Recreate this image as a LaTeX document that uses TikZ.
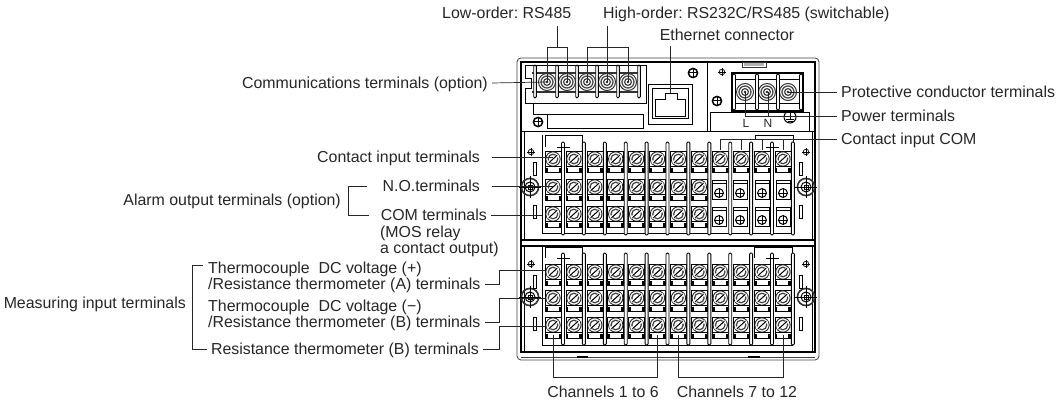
\documentclass[tikz,border=0pt]{standalone}
\usepackage{fontspec}
\setmainfont{Liberation Sans}
\usepackage{xcolor}
\definecolor{lbltext}{gray}{0.15}
\frenchspacing

\tikzset{
  lbl/.style={font=\fontsize{15.9}{16}\selectfont, text=lbltext, inner xsep=4pt, inner ysep=0pt, text height=11.5pt, text depth=0pt},
  lbltwo/.style={font=\fontsize{15.9}{16}\selectfont, text=lbltext, inner xsep=4pt, inner ysep=0pt, align=left},
  conn/.style={line width=0.7pt, black!85},
  frameline/.style={line width=0.8pt, black!75},
  thickline/.style={line width=1.6pt, black},
  barrier/.style={line width=0.9pt, black, fill=white, rounded corners=1.2pt},
}

\newcommand{\tabplate}[2]{
\draw [line width=0.5pt, fill=white] (#1-8,#2+7) rectangle (#1+8,#2+13);
\fill [black] (#1-8,#2+9) rectangle (#1-5.5,#2+13);
\fill [black] (#1+5.5,#2+9) rectangle (#1+8,#2+13);
}
\newcommand{\slotscrew}[2]{
\draw [line width=0.5pt, fill=white] (#1-8,#2-7.5) rectangle (#1+8,#2+7.5);
\draw [line width=0.9pt, black!85] (#1,#2) circle (7.2);
\draw [line width=1.2pt, black!75] (#1,#2) circle (4.8);
\draw [line width=2.6pt, white] (#1-5.5,#2+4) -- (#1+5.5,#2-4);
\draw [line width=0.7pt] (#1-4.5,#2+4.2) -- (#1+3.5,#2-3);
\draw [line width=0.7pt] (#1-3.5,#2+3) -- (#1+4.5,#2-4.2);
}
\newcommand{\ringscrew}[2]{
\draw [line width=1pt, black!80] (#1,#2) circle (8.5);
\draw [line width=1.3pt, black!70] (#1,#2) circle (6);
\draw [line width=1.2pt, black!75] (#1,#2) circle (3.4);
\fill [black!85] (#1,#2) circle (1.3);
}
\newcommand{\tinyscrew}[2]{
\draw [line width=0.7pt] (#1,#2) circle (2.8);
\draw [line width=0.5pt] (#1-3.8,#2) -- (#1+3.8,#2);
\draw [line width=0.5pt] (#1,#2-3.8) -- (#1,#2+3.8);
}
\newcommand{\boldscrew}[2]{
\draw [line width=1.5pt] (#1,#2) circle (4.6);
\draw [line width=1pt] (#1-5,#2) -- (#1+5,#2);
\draw [line width=1pt] (#1,#2-5) -- (#1,#2+5);
}
\newcommand{\mountscrew}[2]{
\draw [line width=1.6pt, black!80] (#1,#2) circle (8.6);
\draw [line width=1pt] (#1,#2) circle (5);
\draw [line width=0.6pt] (#1-11,#2) -- (#1+11,#2);
\draw [line width=0.6pt] (#1,#2-11) -- (#1,#2+11);
\draw [line width=0.8pt] (#1-2,#2-2) rectangle (#1+2,#2+2);
}
\newcommand{\nutplate}[2]{
\draw [line width=0.7pt, fill=white] (#1-7,#2-13) rectangle (#1+7,#2+6);
\draw [line width=0.5pt] (#1-7,#2-10) -- (#1+7,#2-10);
\draw [line width=1pt] (#1,#2) circle (4.4);
\draw [line width=0.5pt] (#1-5,#2) -- (#1+5,#2);
\draw [line width=0.5pt] (#1,#2-5) -- (#1,#2+5);
}

\begin{document}
\begin{tikzpicture}[x=1pt,y=-1pt]
\useasboundingbox (0,0) rectangle (1057,403);

\draw [frameline, rounded corners=4pt] (517,58) rectangle (819,360);
\draw [line width=1.2pt] (521,62) rectangle (815,352);
\draw [frameline] (521,357) -- (815,357);
\draw [line width=1.1pt] (577,357) -- (588,357);
\draw [line width=1.1pt] (748,357) -- (760,357);
\draw [line width=0.5pt] (524,132) -- (524,240);
\draw [line width=0.5pt] (812,132) -- (812,240);
\draw [line width=0.5pt] (524,246) -- (524,352);
\draw [line width=0.5pt] (812,246) -- (812,352);
\draw [thickline] (521,131.5) -- (815,131.5);
\draw [line width=1.1pt] (521,240) -- (815,240);
\draw [thickline] (521,246) -- (815,246);
\draw [line width=0.6pt] (707,62) -- (707,131);

\draw [line width=0.8pt] (525,65) -- (646,65) -- (646,103) -- (525,103) -- (525,88) -- (531,88) -- (531,78) -- (525,78) -- cycle;
\draw [line width=1.1pt, black!80] (532,73) -- (640,73);
\draw [line width=1.1pt, black!80] (532,92) -- (640,92);
\foreach \cx in {547,567,587,607,628} {\ringscrew{\cx}{82}}
\foreach \cx in {535,557,577,597,618,639} {\draw [barrier] (\cx-1.3,65) rectangle (\cx+1.3,98);}
\draw [line width=0.6pt] (533,103) -- (533,114) -- (547,114) -- (547,128) -- (643,128) -- (643,114) -- (547,114);
\boldscrew{538}{122}
\boldscrew{693}{73}
\boldscrew{717}{101}
\tinyscrew{722}{72}

\draw [line width=0.9pt] (648,84) rectangle (692,124);
\draw [line width=0.6pt] (652,88) rectangle (688,118);
\draw [line width=0.6pt] (655,116) -- (655,99) -- (665,99) -- (665,93) -- (677,93) -- (677,99) -- (685,99) -- (685,116) -- cycle;

\draw [line width=0.8pt, black!80] (742,62) rectangle (766,67);
\fill [black!30] (744,63) rectangle (764,66);
\draw [line width=1.3pt] (732,73) rectangle (803,111);
\draw [line width=1pt] (734,80) -- (801,80);
\draw [line width=1pt] (734,104) -- (801,104);
\foreach \cx in {745,767,788} {\ringscrew{\cx}{92}}
\foreach \cx in {734,757,778,801} {\draw [barrier] (\cx-1.5,74) rectangle (\cx+1.5,110);}
\draw [line width=0.6pt] (710,132) -- (710,112) -- (809,112) -- (809,132);
\node [font=\fontsize{12}{12}\selectfont, text=lbltext] (lineL) at (746,123) {L};
\node [font=\fontsize{12}{12}\selectfont, text=lbltext] (lineN) at (768,123) {N};
\draw [line width=1pt] (790,117) circle (6);
\draw [line width=0.7pt] (790,111) -- (790,119);
\draw [line width=0.7pt] (786,119) -- (794,119);
\draw [line width=0.6pt] (787.5,121) -- (792.5,121);

\draw [line width=0.6pt] (545,147) -- (545,135) -- (582,135) -- (582,147);
\draw [line width=0.6pt] (755,139) -- (755,135) -- (793,135) -- (793,142);
\draw [line width=0.7pt] (542,135) -- (542,233) -- (793,233);
\foreach \i in {0,...,11} {
\pgfmathsetmacro\cx{553+20.9*\i}
\slotscrew{\cx}{159}
\tabplate{\cx}{159}
}
\foreach \i in {0,...,7} {
\pgfmathsetmacro\cx{553+20.9*\i}
\slotscrew{\cx}{187}
\tabplate{\cx}{187}
\slotscrew{\cx}{214}
\tabplate{\cx}{214}
}
\foreach \cx in {719,740,762,783} {
\nutplate{\cx}{193}
\nutplate{\cx}{220}
}
\foreach \i in {0,...,11} {
\pgfmathsetmacro\cx{563+20.9*\i}
\draw [barrier] (\cx-1.5,142) rectangle (\cx+1.5,235);
}
\draw [line width=0.5pt] (557,147) -- (570,147);
\draw [line width=0.5pt] (766,147) -- (779,147);

\draw [line width=0.6pt] (545,258) -- (545,247) -- (582,247) -- (582,258);
\draw [line width=0.6pt] (754,258) -- (754,247) -- (792,247) -- (792,258);
\draw [line width=0.7pt] (542,247) -- (542,345) -- (793,345);
\foreach \i in {0,...,11} {
\pgfmathsetmacro\cx{553+20.9*\i}
\slotscrew{\cx}{272}
\tabplate{\cx}{272}
\slotscrew{\cx}{298}
\tabplate{\cx}{298}
\slotscrew{\cx}{325}
\tabplate{\cx}{325}
\pgfmathsetmacro\bx{563+20.9*\i}
\draw [barrier] (\bx-1.5,253) rectangle (\bx+1.5,345);
}
\draw [line width=0.5pt] (557,258) -- (570,258);
\draw [line width=0.5pt] (766,258) -- (779,258);

\foreach \py in {152,264} {
\tinyscrew{531}{\py}
\tinyscrew{806}{\py}
}
\foreach \py in {187,297} {
\mountscrew{530}{\py}
\mountscrew{806}{\py}
}
\foreach \sx in {535,801} {
\foreach \sy in {162,205,275,317} {
\draw [line width=0.6pt, fill=white] (\sx-1.5,\sy) rectangle (\sx+1.5,\sy+13);
}
}

\node [lbl, anchor=west] (loworder) at (438,13) {Low-order: RS485};
\node [lbl, anchor=west] (highorder) at (599,13) {High-order: RS232C/RS485 (switchable)};
\node [lbl, anchor=center] (ethernet) at (727,35) {Ethernet connector};
\node [lbl, anchor=east] (comm) at (492,83) {Communications terminals (option)};
\node [lbl, anchor=west] (protective) at (837,92) {Protective conductor terminals};
\node [lbl, anchor=west] (power) at (837,116) {Power terminals};
\node [lbl, anchor=west] (contactcom) at (837,139) {Contact input COM};
\node [lbl, anchor=east] (contactin) at (484,157) {Contact input terminals};
\node [lbl, anchor=east] (noterm) at (484,186) {N.O.terminals};
\node [lbl, anchor=east] (comterm) at (491,215) {COM terminals};
\node [lbltwo, anchor=north west] (mosrelay) at (376,226) {(MOS relay\\a contact output)};
\node [lbl, anchor=east] (alarm) at (345,200) {Alarm output terminals (option)};
\node [lbltwo, anchor=south west] (tcplus) at (204,293) {Thermocouple\ \ DC voltage (+)\\/Resistance thermometer (A) terminals};
\node [lbltwo, anchor=south west] (tcminus) at (204,331) {Thermocouple\ \ DC voltage (−)\\/Resistance thermometer (B) terminals};
\node [lbl, anchor=east] (rtb) at (483,349) {Resistance thermometer (B) terminals};
\node [lbl, anchor=east] (measuring) at (190,303) {Measuring input terminals};
\node [lbl, anchor=center] (chlow) at (603,392) {Channels 1 to 6};
\node [lbl, anchor=center] (chhigh) at (737,392) {Channels 7 to 12};

\coordinate (lowtap) at (557,26);
\coordinate (lowbarL) at (547,47);
\coordinate (lowbarM) at (557,47);
\coordinate (lowbarR) at (567,47);
\coordinate (hightap) at (607,26);
\coordinate (highbarL) at (587,47);
\coordinate (highbarR) at (628,47);
\coordinate (lowA) at (547,82);
\coordinate (lowB) at (567,82);
\coordinate (highA) at (587,82);
\coordinate (highB) at (607,82);
\coordinate (highC) at (628,82);
\coordinate (porttop) at (670,46);
\coordinate (port) at (670,93);
\coordinate (psuL) at (745,92);
\coordinate (psuN) at (768,92);
\coordinate (psuE) at (788,92);
\coordinate (psubusL) at (745,116);
\coordinate (psubusN) at (768,116);
\coordinate (combus) at (720,139);
\coordinate (comA) at (720,150);
\coordinate (comB) at (741,150);
\coordinate (comC) at (762,150);
\coordinate (comD) at (783,150);
\coordinate (rowcontact) at (553,157);
\coordinate (rowno) at (553,186);
\coordinate (rowcom) at (542,215);
\coordinate (alarmtop) at (348,186);
\coordinate (alarmbot) at (348,215);
\coordinate (elbowA) at (499,270);
\coordinate (elbowB) at (499,298);
\coordinate (elbowC) at (499,326);
\coordinate (rowA) at (545,270);
\coordinate (rowB) at (545,298);
\coordinate (rowC) at (545,326);
\coordinate (measurestub) at (203,265);
\coordinate (measuretop) at (192,265);
\coordinate (measurebot) at (192,349);
\coordinate (chA) at (553,335);
\coordinate (chF) at (657,335);
\coordinate (chG) at (678,335);
\coordinate (chL) at (783,335);

\draw [conn] (lowtap) -- (lowbarM);
\draw [conn] (lowA) -- (lowbarL) -- (lowbarR) -- (lowB);
\draw [conn] (hightap) -- (highB);
\draw [conn] (highA) -- (highbarL) -- (highbarR) -- (highC);
\draw [conn] (port) -- (porttop);
\draw [conn] (comm.east) -- (lowA);
\draw [conn] (protective.west) -- (psuE);
\draw [conn] (power.west) -- (psubusL) -- (psuL);
\draw [conn] (psuN) -- (psubusN);
\draw [conn] (contactcom.west) -- (combus) -- (comA);
\draw [conn] (comB |- combus) -- (comB);
\draw [conn] (comC |- combus) -- (comC);
\draw [conn] (comD |- combus) -- (comD);
\draw [conn] ([xshift=8pt]contactin.east) -- (rowcontact);
\draw [conn] ([xshift=8pt]noterm.east) -- (rowno);
\draw [conn] (comterm.east) -- (rowcom);
\draw [conn] ([xshift=-11pt]noterm.west) -- (alarmtop) -- (alarmbot) -- ([xshift=-8pt]comterm.west);
\draw [conn] ([yshift=9pt]tcplus.south east) -| (elbowA) -- (rowA);
\draw [conn] ([yshift=9pt]tcminus.south east) -| (elbowB) -- (rowB);
\draw [conn] (rtb.east) -| (elbowC) -- (rowC);
\draw [conn] (measurestub) -- (measuretop) -- (measurebot) -- (rtb.west);
\draw [conn] (chA) -- ++(0,42) -| (chF);
\draw [conn] (chG) -- ++(0,42) -| (chL);
\end{tikzpicture}
\end{document}
